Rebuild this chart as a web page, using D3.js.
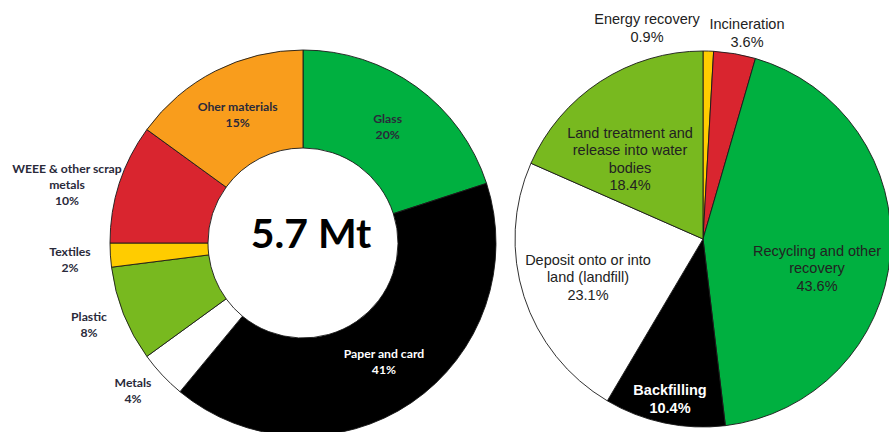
<!DOCTYPE html>
<html>
<head>
<meta charset="utf-8">
<script src="https://cdn.jsdelivr.net/npm/d3@7"></script>
<style>
  html, body { margin: 0; padding: 0; background: #ffffff; }
  svg { display: block; }
</style>
</head>
<body>
<svg id="chart" width="889" height="432"></svg>
<script>
// Waste by material (left donut) and by treatment (right pie)
const materialNames = ["Glass", "Paper and card", "Metals", "Plastic", "Textiles", "WEEE & other scrap metals", "Oher materials"];
const materialShares = [20, 41, 4, 8, 2, 10, 15];
const materialLines = [["Glass", "20%"], ["Paper and card", "41%"], ["Metals", "4%"], ["Plastic", "8%"], ["Textiles", "2%"], ["WEEE & other scrap", "metals", "10%"], ["Oher materials", "15%"]];
const materialTotal = "5.7 Mt";

const treatmentNames = ["Energy recovery", "Incineration", "Recycling and other recovery", "Backfilling", "Deposit onto or into land (landfill)", "Land treatment and release into water bodies"];
const treatmentShares = [0.9, 3.6, 43.6, 10.4, 23.1, 18.4];
const treatmentLines = [["Energy recovery", "0.9%"], ["Incineration", "3.6%"], ["Recycling and other", "recovery", "43.6%"], ["Backfilling", "10.4%"], ["Deposit onto or into", "land (landfill)", "23.1%"], ["Land treatment and", "release into water", "bodies", "18.4%"]];

// Styling
const materialColors = ["#00b040", "#000000", "#ffffff", "#78b91f", "#ffcc00", "#d9252f", "#f99d1c"];
const treatmentColors = ["#ffcc00", "#d9252f", "#00b040", "#000000", "#ffffff", "#78b91f"];

const svg = d3.select("#chart");

// ---------- Left donut ----------
const left = { cx: 303, cy: 243, r: 193, ir: 95 };
const gL = svg.append("g").attr("transform", `translate(${left.cx},${left.cy})`);

const pieL = d3.pie().sort(null).value(d => d)(materialShares);
const arcL = d3.arc().innerRadius(left.ir).outerRadius(left.r);

gL.selectAll("path.slice").data(pieL).join("path")
  .attr("class", "slice")
  .attr("d", arcL)
  .attr("fill", (d, i) => materialColors[i])
  .attr("stroke", "#1a1a1a")
  .attr("stroke-width", 0.9)
  .attr("stroke-linejoin", "round");

// inside labels sit on the ring centroid; small slices get labels placed outside the ring
const matOutsidePos = [null, null, [-170, 148], [-214, 82], [-233, 17], [-236, -58], null];
const matLabelColor = ["#2a2a3a", "#ffffff", "#2a2a3a", "#2a2a3a", "#2a2a3a", "#2a2a3a", "#2a2a3a"];
const matLineH = 16;

pieL.forEach((d, i) => {
  const [x, y] = matOutsidePos[i] || arcL.centroid(d);
  const lines = materialLines[i];
  const t = gL.append("text")
    .attr("text-anchor", "middle")
    .attr("font-family", "Lato, 'Open Sans', sans-serif")
    .attr("font-weight", 700)
    .attr("font-size", 12.2)
    .attr("fill", matLabelColor[i]);
  const y0 = y - (lines.length - 1) * matLineH / 2;
  lines.forEach((ln, k) => {
    t.append("tspan").attr("x", x).attr("y", y0 + k * matLineH).attr("dy", "0.35em").text(ln);
  });
});

gL.append("text")
  .attr("x", 8).attr("y", -9)
  .attr("text-anchor", "middle")
  .attr("dy", "0.35em")
  .attr("font-family", "Lato, 'Open Sans', sans-serif")
  .attr("font-weight", 700)
  .attr("font-size", 41)
  .attr("fill", "#000")
  .text(materialTotal);

// ---------- Right pie ----------
const right = { cx: 703, cy: 239, r: 188 };
const gR = svg.append("g").attr("transform", `translate(${right.cx},${right.cy})`);

const pieR = d3.pie().sort(null).value(d => d)(treatmentShares);
const arcR = d3.arc().innerRadius(0).outerRadius(right.r);

gR.selectAll("path.slice").data(pieR).join("path")
  .attr("class", "slice")
  .attr("d", arcR)
  .attr("fill", (d, i) => treatmentColors[i])
  .attr("stroke", "#1a1a1a")
  .attr("stroke-width", 0.9)
  .attr("stroke-linejoin", "round");

// label block centres, offset from the pie centre
const treatLabelPos = [[-56, -211], [44, -206], [114, 29], [-33, 160], [-115, 38], [-73, -80]];
const treatLabelColor = ["#222", "#222", "#222", "#ffffff", "#222", "#222"];
const treatLabelWeight = [400, 400, 400, 700, 400, 400];
const treatLineH = 17.5;

pieR.forEach((d, i) => {
  const [x, y] = treatLabelPos[i];
  const lines = treatmentLines[i];
  const t = gR.append("text")
    .attr("text-anchor", "middle")
    .attr("font-family", "'Liberation Sans', Arial, sans-serif")
    .attr("font-weight", treatLabelWeight[i])
    .attr("font-size", 14.5)
    .attr("fill", treatLabelColor[i]);
  const y0 = y - (lines.length - 1) * treatLineH / 2;
  lines.forEach((ln, k) => {
    t.append("tspan").attr("x", x).attr("y", y0 + k * treatLineH).attr("dy", "0.35em").text(ln);
  });
});
</script>
</body>
</html>
